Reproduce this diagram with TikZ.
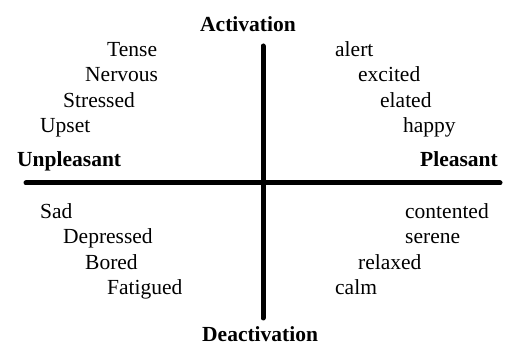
\documentclass[tikz,border=0pt]{standalone}
\usepackage{fontspec}
\setmainfont{Liberation Serif}

\begin{document}
\begin{tikzpicture}[x=1pt,y=-1pt,
  every node/.style={anchor=base west,inner sep=0pt,font=\fontsize{21.5}{26}\selectfont},
  axis/.style={font=\fontsize{21.5}{26}\selectfont\bfseries},
  axisline/.style={line width=5pt,line cap=round}]
\useasboundingbox (0,0) rectangle (507,347);
\coordinate (N) at (263,46);
\coordinate (S) at (263,318);
\coordinate (W) at (26,183);
\coordinate (E) at (500,183);
\draw[axisline] (N) -- (S);
\draw[axisline] (W) -- (E);
\node[axis] (act)   at (200,32)  {Activation};
\node[axis] (deact) at (202,342) {Deactivation};
\node[axis] (unpl)  at (17,167)  {Unpleasant};
\node[axis] (pl)    at (420,167) {Pleasant};
% unpleasant, activated
\node (tense)    at (107,57)  {Tense};
\node (nervous)  at (85,82)   {Nervous};
\node (stressed) at (63,108)  {Stressed};
\node (upset)    at (40,133)  {Upset};
% pleasant, activated
\node (alert)    at (335,57)  {alert};
\node (excited)  at (358,82)  {excited};
\node (elated)   at (380,108) {elated};
\node (happy)    at (403,133) {happy};
% unpleasant, deactivated
\node (sad)       at (40,219)  {Sad};
\node (depressed) at (63,244)  {Depressed};
\node (bored)     at (85,270)  {Bored};
\node (fatigued)  at (107,295) {Fatigued};
% pleasant, deactivated
\node (contented) at (405,219) {contented};
\node (serene)    at (405,244) {serene};
\node (relaxed)   at (358,270) {relaxed};
\node (calm)      at (335,295) {calm};
\end{tikzpicture}
\end{document}
